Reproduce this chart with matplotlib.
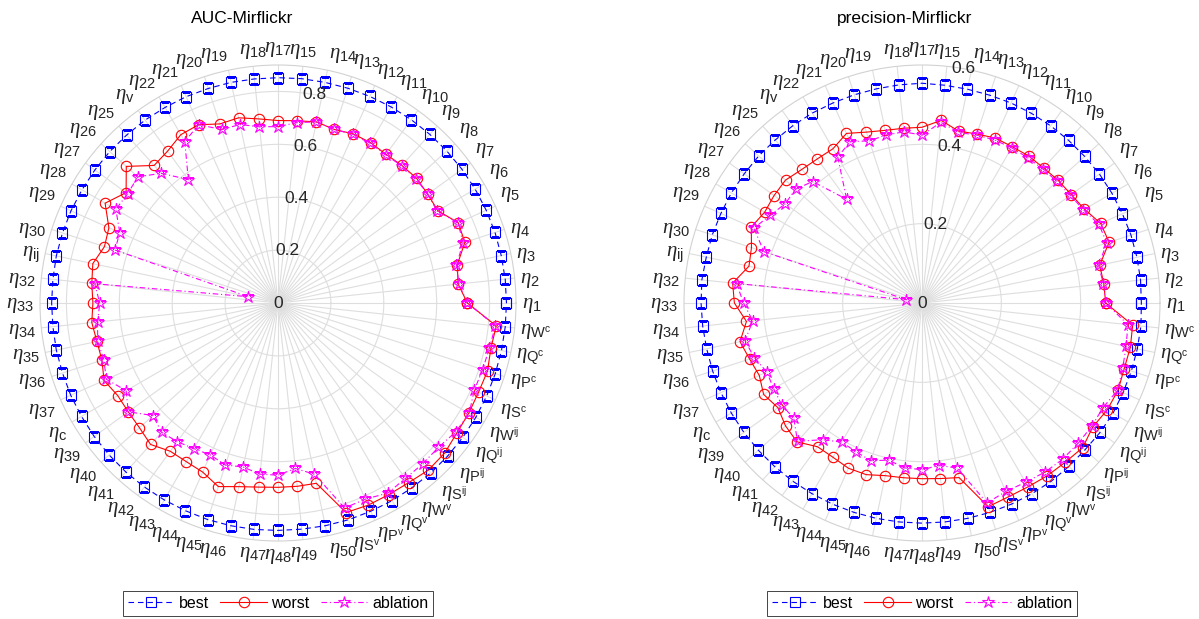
import numpy as np
import matplotlib
matplotlib.use("Agg")
import matplotlib.pyplot as plt
from matplotlib.transforms import ScaledTranslation

plt.rcParams["font.family"] = ["Liberation Sans", "DejaVu Sans"]
plt.rcParams["mathtext.fontset"] = "custom"
plt.rcParams["mathtext.rm"] = "Liberation Sans"
plt.rcParams["mathtext.it"] = "Liberation Serif:italic"
plt.rcParams["mathtext.bf"] = "Liberation Sans:bold"

# ---- spoke labels (counter-clockwise from 0 degrees) ----
labels = (
    [r"$\eta_{%d}$" % k for k in range(1, 16)]
    + [r"$\eta_{%d}$" % k for k in range(17, 23)]
    + [r"$\eta_{\mathrm{v}}$"]
    + [r"$\eta_{%d}$" % k for k in range(25, 31)]
    + [r"$\eta_{\mathrm{ij}}$"]
    + [r"$\eta_{%d}$" % k for k in range(32, 38)]
    + [r"$\eta_{\mathrm{c}}$"]
    + [r"$\eta_{%d}$" % k for k in range(39, 51)]
    + [r"$\eta_{\mathrm{S}^{\mathrm{v}}}$", r"$\eta_{\mathrm{P}^{\mathrm{v}}}$",
       r"$\eta_{\mathrm{Q}^{\mathrm{v}}}$", r"$\eta_{\mathrm{W}^{\mathrm{v}}}$",
       r"$\eta_{\mathrm{S}^{\mathrm{ij}}}$", r"$\eta_{\mathrm{P}^{\mathrm{ij}}}$",
       r"$\eta_{\mathrm{Q}^{\mathrm{ij}}}$", r"$\eta_{\mathrm{W}^{\mathrm{ij}}}$",
       r"$\eta_{\mathrm{S}^{\mathrm{c}}}$", r"$\eta_{\mathrm{P}^{\mathrm{c}}}$",
       r"$\eta_{\mathrm{Q}^{\mathrm{c}}}$", r"$\eta_{\mathrm{W}^{\mathrm{c}}}$"]
)

series_names = ["best", "worst", "ablation"]

# ---- AUC on Mirflickr ----
auc_best = [
    0.864, 0.864, 0.863, 0.863, 0.862, 0.861, 0.860, 0.859, 0.858, 0.857,
    0.856, 0.855, 0.854, 0.853, 0.853, 0.852, 0.852, 0.853, 0.853, 0.854,
    0.854, 0.855, 0.855, 0.856, 0.856, 0.856, 0.857, 0.857, 0.857, 0.856,
    0.856, 0.856, 0.857, 0.857, 0.858, 0.858, 0.859, 0.859, 0.860, 0.860,
    0.860, 0.860, 0.861, 0.861, 0.861, 0.860, 0.860, 0.861, 0.862, 0.862,
    0.863, 0.863, 0.864, 0.864, 0.864, 0.864, 0.864, 0.864, 0.864, 0.864,
]
auc_worst = [
    0.716, 0.685, 0.693, 0.743, 0.746, 0.698, 0.700, 0.705, 0.700, 0.695,
    0.700, 0.700, 0.690, 0.700, 0.693, 0.690, 0.700, 0.716, 0.712, 0.738,
    0.735, 0.710, 0.700, 0.772, 0.710, 0.755, 0.700, 0.690, 0.716, 0.708,
    0.700, 0.708, 0.700, 0.700, 0.720, 0.700, 0.700, 0.705, 0.720, 0.693,
    0.693, 0.700, 0.730, 0.710, 0.700, 0.697, 0.697, 0.697, 0.833, 0.837,
    0.837, 0.840, 0.850, 0.848, 0.836, 0.833, 0.830, 0.833, 0.823, 0.830,
]
auc_ablation = [
    0.716, 0.688, 0.690, 0.736, 0.745, 0.695, 0.700, 0.702, 0.698, 0.693,
    0.697, 0.698, 0.690, 0.700, 0.686, 0.667, 0.670, 0.690, 0.690, 0.738,
    0.705, 0.577, 0.660, 0.713, 0.703, 0.708, 0.655, 0.648, 0.115, 0.697,
    0.674, 0.686, 0.697, 0.693, 0.710, 0.663, 0.700, 0.636, 0.658, 0.648,
    0.636, 0.629, 0.644, 0.634, 0.651, 0.651, 0.629, 0.662, 0.815, 0.812,
    0.830, 0.820, 0.818, 0.816, 0.830, 0.835, 0.812, 0.814, 0.817, 0.827,
]

# ---- precision on Mirflickr ----
prec_best = [
    0.553, 0.554, 0.554, 0.554, 0.553, 0.553, 0.553, 0.552, 0.552, 0.552,
    0.552, 0.552, 0.551, 0.551, 0.552, 0.554, 0.553, 0.552, 0.552, 0.552,
    0.553, 0.553, 0.553, 0.554, 0.554, 0.555, 0.555, 0.556, 0.556, 0.558,
    0.557, 0.556, 0.555, 0.555, 0.555, 0.555, 0.555, 0.555, 0.555, 0.555,
    0.555, 0.555, 0.555, 0.555, 0.555, 0.555, 0.555, 0.555, 0.555, 0.555,
    0.555, 0.555, 0.554, 0.553, 0.555, 0.556, 0.555, 0.555, 0.555, 0.555,
]
prec_worst = [
    0.463, 0.461, 0.458, 0.496, 0.493, 0.473, 0.465, 0.462, 0.458, 0.458,
    0.455, 0.455, 0.448, 0.443, 0.463, 0.443, 0.443, 0.445, 0.453, 0.468,
    0.449, 0.449, 0.453, 0.463, 0.461, 0.458, 0.471, 0.452, 0.446, 0.480,
    0.473, 0.445, 0.469, 0.457, 0.449, 0.461, 0.449, 0.463, 0.471, 0.448,
    0.449, 0.456, 0.455, 0.445, 0.443, 0.443, 0.445, 0.450, 0.540, 0.535,
    0.535, 0.538, 0.540, 0.545, 0.532, 0.539, 0.541, 0.536, 0.537, 0.534,
]
prec_ablation = [
    0.463, 0.460, 0.455, 0.490, 0.488, 0.470, 0.462, 0.458, 0.455, 0.453,
    0.452, 0.450, 0.445, 0.440, 0.458, 0.423, 0.434, 0.433, 0.430, 0.445,
    0.425, 0.323, 0.412, 0.429, 0.426, 0.442, 0.464, 0.419, 0.040, 0.470,
    0.450, 0.429, 0.456, 0.445, 0.428, 0.432, 0.437, 0.435, 0.469, 0.426,
    0.405, 0.410, 0.418, 0.405, 0.418, 0.420, 0.412, 0.425, 0.530, 0.520,
    0.522, 0.527, 0.530, 0.529, 0.529, 0.527, 0.540, 0.532, 0.526, 0.522,
]

auc_rticks = [0, 0.2, 0.4, 0.6, 0.8]
prec_rticks = [0, 0.2, 0.4, 0.6]

W, H = 1199, 619
fig = plt.figure(figsize=(W / 100, H / 100), dpi=100)
TXT = "#262626"

styles = [
    dict(color="blue", ls=(0, (5, 3.5)), marker="s", ms=6.5),
    dict(color="red", ls="-", marker="o", ms=7.5),
    dict(color="magenta", ls=(0, (5, 2.5, 1, 2.5)), marker="*", ms=9),
]


def panel(cx, cy, title, title_x, values, rmax, rticks):
    size = 476
    ax = fig.add_axes([(cx - size / 2) / W, (H - cy - size / 2) / H, size / W, size / H],
                      projection="polar")
    n = len(labels)
    theta = np.deg2rad(np.arange(n) * 360.0 / n)
    th = np.append(theta, theta[0])
    for name, vals, st in zip(series_names, values, styles):
        v = np.append(np.asarray(vals), vals[0])
        ax.plot(th, v, color=st["color"], ls=st["ls"], lw=0.8, marker=st["marker"],
                ms=st["ms"], mfc="none", mec=st["color"], mew=0.8, label=name)
    ax.set_ylim(0, rmax)
    ax.set_xticks(theta)
    ax.set_xticklabels([])
    ax.set_yticks([r for r in rticks if 0 < r < rmax])
    ax.set_yticklabels([])
    ax.tick_params(length=0)
    ax.grid(True, color="#dedede", lw=0.8)
    ax.set_axisbelow(True)
    ax.spines["polar"].set_color("#d2d2d2")
    ax.spines["polar"].set_linewidth(0.8)

    pad = 4.0
    for a, lab in zip(theta, labels):
        c, s = np.cos(a), np.sin(a)
        ha = "center" if abs(c) < 0.12 else ("left" if c > 0 else "right")
        if abs(s) < 0.36:
            va, dy = "center", -2.0
        elif s > 0:
            va, dy = "bottom", 0.0
        else:
            va, dy = "top", 0.0
        off = ScaledTranslation(pad * c / 72, (pad * s + dy) / 72, fig.dpi_scale_trans)
        ax.text(a, rmax, lab, transform=ax.transData + off, ha=ha, va=va,
                fontsize=15, color=TXT, clip_on=False)

    for r in rticks:
        ax.text(np.deg2rad(80), r, f"{r:g}", ha="center", va="center",
                fontsize=12.5, color=TXT, clip_on=False, zorder=5)

    fig.text(title_x / W, 1 - 23 / H, title, ha="center", va="baseline",
             fontsize=12.5, color="black")

    h, l = ax.get_legend_handles_labels()
    leg = fig.legend(h, l, loc="center", bbox_to_anchor=(cx / W, 1 - 603.5 / H), ncol=3,
                     frameon=True, fancybox=False, edgecolor=TXT, framealpha=1,
                     fontsize=11.5, handlelength=2.9, handletextpad=0.3,
                     columnspacing=0.7, borderpad=0.3, borderaxespad=0)
    leg.get_frame().set_linewidth(0.6)
    return ax


panel(278, 303, "AUC-Mirflickr", 242,
      [auc_best, auc_worst, auc_ablation], 0.9, auc_rticks)
panel(922, 303, "precision-Mirflickr", 905,
      [prec_best, prec_worst, prec_ablation], 0.6, prec_rticks)

fig.savefig("out.png", dpi=100)
